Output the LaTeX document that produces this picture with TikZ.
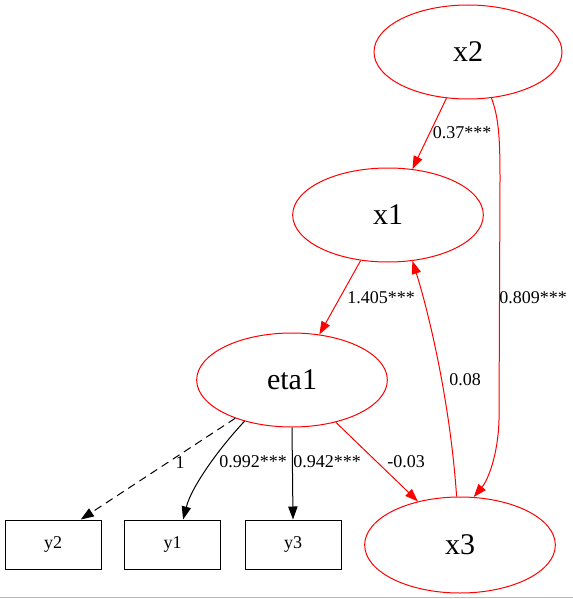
\documentclass[tikz,border=0pt]{standalone}
\usepackage{fontspec}
\setmainfont{Liberation Serif}
\usetikzlibrary{shapes.geometric,arrows.meta}

\begin{document}
\begin{tikzpicture}[x=0.75pt, y=-0.75pt,
      latent/.style={ellipse, draw=red, line width=0.75pt, minimum width=143pt,
            minimum height=70.5pt, inner sep=0pt, font=\fontsize{22.5}{27}\selectfont},
      manifest/.style={rectangle, draw, line width=0.75pt, minimum width=72pt,
            minimum height=36.75pt, inner sep=0pt, font=\fontsize{13.5}{16}\selectfont},
      lbl/.style={inner sep=0pt, font=\fontsize{13.5}{16}\selectfont},
      reg/.style={draw=red, line width=0.75pt, -{Triangle[length=9.75pt, width=7pt]}},
      load/.style={draw=black, line width=0.75pt, -{Triangle[length=9.75pt, width=7pt]}}]
      \useasboundingbox (0, 0) rectangle (573, 599);
      \draw[gray!55, line width=1pt] (0, 597.5) -- (573, 597.5);
      % latent variables
      \node[latent, minimum width=141pt] (x2) at (468, 52) {x2};
      \node[latent] (x1) at (388, 215) {x1};
      \node[latent] (eta1) at (292, 380) {eta1};
      \node[latent, minimum height=72pt] (x3) at (460, 545) {x3};
      % indicators
      \node[manifest] (y2) at (53, 544.5) {y2};
      \node[manifest] (y1) at (172.5, 544.5) {y1};
      \node[manifest] (y3) at (293, 544.5) {y3};
      % regressions
      \draw[reg] (x2.-115) -- (x1.62);
      \draw[reg] (x1.-121) -- (eta1.59);
      \draw[reg] (x2.-63) .. controls (499, 118) and (500, 140) .. (500, 180)
            -- (499, 420) .. controls (498, 455) and (488, 480) .. (x3.74);
      \draw[reg] (x3.94) .. controls (450, 400) and (428, 310) .. (x1.-62);
      \draw[reg] (eta1.-44) -- (x3.134);
      % loadings
      \draw[load, dash pattern=on 6pt off 4pt] (eta1.-146) -- (y2.42);
      \draw[load] (eta1.-139) .. controls (222, 445) and (192, 485) .. (y1.67);
      \draw[load] (eta1.-90) -- (y3.north);
      % estimates
      \node[lbl] (b37) at (462, 133) {0.37***};
      \node[lbl] (b1405) at (381, 298) {1.405***};
      \node[lbl] (b809) at (533, 298) {0.809***};
      \node[lbl] (b08) at (465, 380) {0.08};
      \node[lbl] (b03) at (406, 462) {-0.03};
      \node[lbl] (l1) at (180, 463) {1};
      \node[lbl] (l992) at (253, 462) {0.992***};
      \node[lbl] (l942) at (327, 462) {0.942***};
\end{tikzpicture}
\end{document}
